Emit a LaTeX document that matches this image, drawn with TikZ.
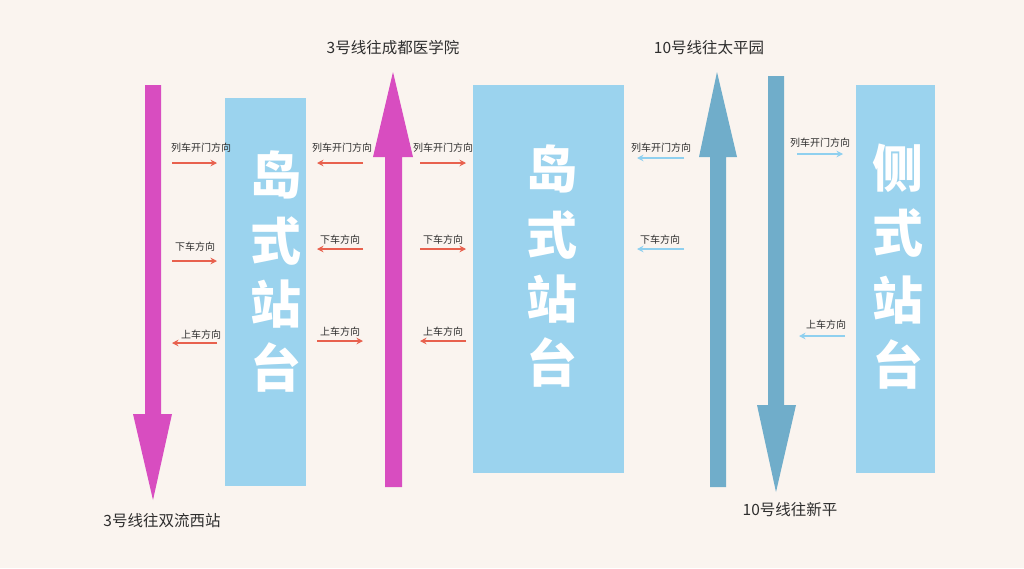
\documentclass[tikz,border=0pt]{standalone}
\usepackage{fontspec}
\newfontfamily\cjk{Noto Sans CJK SC}
\usetikzlibrary{arrows.meta}
\definecolor{bgc}{HTML}{FAF4EF}
\definecolor{plat}{HTML}{9BD3EE}
\definecolor{mag}{HTML}{D84DC0}
\definecolor{deepblue}{HTML}{70ADCA}
\definecolor{redarr}{HTML}{E8614E}
\definecolor{bluearr}{HTML}{8FD0EF}
\definecolor{txt}{HTML}{2E2E2E}
\tikzset{
  platbox/.style={fill=plat,draw=none},
  bigchar/.style={text=white,font=\cjk\bfseries\fontsize{51}{51}\selectfont,inner sep=0pt,anchor=center},
  small/.style={text=txt,font=\cjk\fontsize{10}{10}\selectfont,inner sep=0pt,anchor=center},
  dest/.style={text=txt,font=\cjk\fontsize{15.5}{16}\selectfont,inner sep=0pt,anchor=center},
  redline/.style={draw=redarr,line width=2pt,-{Stealth[length=6.5pt,width=6.5pt]}},
  blueline/.style={draw=bluearr,line width=2pt,-{Stealth[length=6.5pt,width=6.5pt]}}
}
\begin{document}
\begin{tikzpicture}[x=1pt,y=-1pt]
\useasboundingbox (0,0) rectangle (1024,568);
\fill[bgc] (0,0) rectangle (1024,568);

% platforms
\fill[platbox] (225,98) rectangle (306,486);
\fill[platbox] (473,85) rectangle (624,473);
\fill[platbox] (856,85) rectangle (935,473);

% big characters
\node[bigchar] (l1) at (276,175) {岛};
\node[bigchar] (l2) at (276,241) {式};
\node[bigchar] (l3) at (276,304) {站};
\node[bigchar] (l4) at (276,367) {台};
\node[bigchar] (m1) at (552,169) {岛};
\node[bigchar] (m2) at (552,235) {式};
\node[bigchar] (m3) at (552,299) {站};
\node[bigchar] (m4) at (552,362) {台};
\node[bigchar] (s1) at (898,168) {侧};
\node[bigchar] (s2) at (898,233) {式};
\node[bigchar] (s3) at (898,300) {站};
\node[bigchar] (s4) at (898,364) {台};

% big arrows
\fill[mag] (145,85) -- (161,85) -- (161,414) -- (172,414) -- (153,500) -- (133,414) -- (145,414) -- cycle;
\fill[mag] (385,487) -- (402,487) -- (402,157) -- (413,157) -- (393,72) -- (373,157) -- (385,157) -- cycle;
\fill[deepblue] (710,487) -- (726,487) -- (726,157) -- (737,157) -- (717,72) -- (699,157) -- (710,157) -- cycle;
\fill[deepblue] (768,76) -- (784,76) -- (784,405) -- (796,405) -- (776,492) -- (757,405) -- (768,405) -- cycle;

% destination labels
\node[dest] (d1) at (393,48) {3号线往成都医学院};
\node[dest] (d2) at (709,48) {10号线往太平园};
\node[dest] (d3) at (162,521) {3号线往双流西站};
\node[dest] (d4) at (790,510) {10号线往新平};

% group A: left of left island
\node[small] (a1) at (201,148) {列车开门方向};
\node[small] (a2) at (195,247) {下车方向};
\node[small] (a3) at (201,335) {上车方向};
\coordinate (a1s) at (172,163); \coordinate (a1e) at (217,163);
\coordinate (a2s) at (172,261); \coordinate (a2e) at (217,261);
\coordinate (a3s) at (217,343); \coordinate (a3e) at (172,343);
\draw[redline] (a1s) -- (a1e);
\draw[redline] (a2s) -- (a2e);
\draw[redline] (a3s) -- (a3e);

% group B: between left island and middle arrow
\node[small] (b1) at (342,148) {列车开门方向};
\node[small] (b2) at (340,240) {下车方向};
\node[small] (b3) at (340,332) {上车方向};
\coordinate (b1s) at (363,163); \coordinate (b1e) at (317,163);
\coordinate (b2s) at (363,249); \coordinate (b2e) at (317,249);
\coordinate (b3s) at (317,341); \coordinate (b3e) at (363,341);
\draw[redline] (b1s) -- (b1e);
\draw[redline] (b2s) -- (b2e);
\draw[redline] (b3s) -- (b3e);

% group C: between middle arrow and middle island
\node[small] (c1) at (443,148) {列车开门方向};
\node[small] (c2) at (443,240) {下车方向};
\node[small] (c3) at (443,332) {上车方向};
\coordinate (c1s) at (420,163); \coordinate (c1e) at (466,163);
\coordinate (c2s) at (420,249); \coordinate (c2e) at (466,249);
\coordinate (c3s) at (466,341); \coordinate (c3e) at (420,341);
\draw[redline] (c1s) -- (c1e);
\draw[redline] (c2s) -- (c2e);
\draw[redline] (c3s) -- (c3e);

% group D: right of middle island
\node[small] (e1) at (661,148) {列车开门方向};
\node[small] (e2) at (660,240) {下车方向};
\coordinate (e1s) at (684,158); \coordinate (e1e) at (637,158);
\coordinate (e2s) at (684,249); \coordinate (e2e) at (637,249);
\draw[blueline] (e1s) -- (e1e);
\draw[blueline] (e2s) -- (e2e);

% group E: left of side platform
\node[small] (f1) at (820,143) {列车开门方向};
\node[small] (f2) at (826,325) {上车方向};
\coordinate (f1s) at (797,154); \coordinate (f1e) at (843,154);
\coordinate (f2s) at (845,336); \coordinate (f2e) at (799,336);
\draw[blueline] (f1s) -- (f1e);
\draw[blueline] (f2s) -- (f2e);
\end{tikzpicture}
\end{document}
